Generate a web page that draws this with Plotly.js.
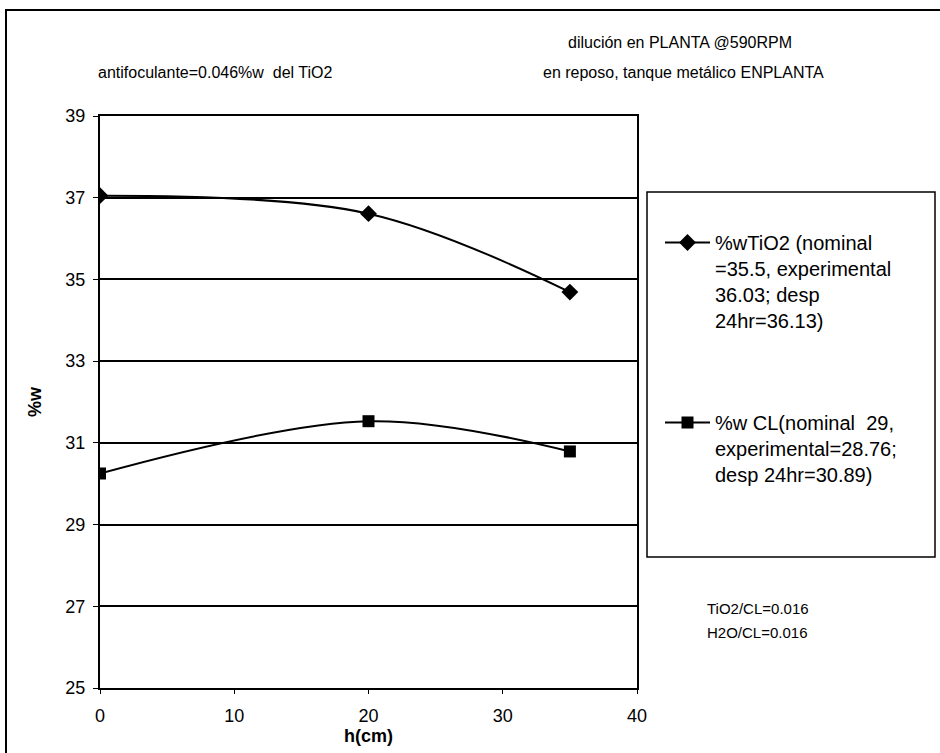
<!DOCTYPE html>
<html>
<head>
<meta charset="utf-8">
<script src="https://cdn.plot.ly/plotly-3.0.1.min.js"></script>
<style>html,body{margin:0;padding:0;background:#fff;}#chart{width:940px;height:753px;}</style>
</head>
<body>
<div id="chart"></div>
<script>
// ---- data ----
const h_cm = [0, 20, 35];
const tio2 = [37.05, 36.61, 34.69];
const cl = [30.25, 31.53, 30.79];
const seriesNames = [
  "%wTiO2 (nominal<br>=35.5, experimental<br>36.03; desp<br>24hr=36.13)",
  "%w CL(nominal\u00a0 29,<br>experimental=28.76;<br>desp 24hr=30.89)"
];
const yTicks = [25, 27, 29, 31, 33, 35, 37, 39];
const xTicks = [0, 10, 20, 30, 40];
const titleLeft = "antifoculante=0.046%w  del TiO2";
const titleRight1 = "dilución en PLANTA @590RPM";
const titleRight2 = "en reposo, tanque metálico ENPLANTA";
const noteLines = ["TiO2/CL=0.016", "H2O/CL=0.016"];

// ---- layout helpers (pixel -> paper) ----
const W = 940, H = 753;
const M = {l: 100, r: 303, t: 116, b: 65};
const pw = W - M.l - M.r, ph = H - M.t - M.b;
const xp = px => (px - M.l) / pw;
const yp = py => (H - M.b - py) / ph;

const FONT = "Liberation Sans, Arial, sans-serif";

const traces = [
  {x: h_cm, y: tio2, name: seriesNames[0], type: "scatter", mode: "lines+markers",
   line: {color: "#000", width: 2, shape: "spline", smoothing: 1},
   marker: {symbol: "diamond", size: 13, color: "#000"}, legendgroup: "a"},
  {x: h_cm, y: cl, name: seriesNames[1], type: "scatter", mode: "lines+markers",
   line: {color: "#000", width: 2, shape: "spline", smoothing: 1},
   marker: {symbol: "square", size: 12, color: "#000"}, legendgroup: "b"}
];

const layout = {
  width: W, height: H,
  margin: M,
  paper_bgcolor: "#fff", plot_bgcolor: "#fff",
  font: {family: FONT, color: "#000", size: 16},
  showlegend: true,
  legend: {
    x: xp(660), y: yp(223), xanchor: "left", yanchor: "top",
    bgcolor: "rgba(0,0,0,0)", borderwidth: 0,
    font: {family: FONT, size: 20, color: "#000"},
    valign: "top", tracegroupgap: 73, itemwidth: 45,
    traceorder: "grouped"
  },
  xaxis: {
    range: [0, 40], tickvals: xTicks, ticktext: xTicks.map(String),
    showgrid: false, zeroline: false,
    showline: true, mirror: true, linecolor: "#000", linewidth: 2,
    ticks: "outside", ticklen: 4, tickcolor: "#000", tickwidth: 1,
    ticklabelstandoff: 6,
    tickfont: {family: FONT, size: 18},
    title: {text: "<b>h(cm)</b>", font: {family: FONT, size: 18}, standoff: 0}
  },
  yaxis: {
    range: [25, 39], tickvals: yTicks, ticktext: yTicks.map(String),
    showgrid: true, gridcolor: "#000", gridwidth: 2, zeroline: false,
    showline: true, mirror: true, linecolor: "#000", linewidth: 2,
    ticks: "outside", ticklen: 5, tickcolor: "#000", tickwidth: 1,
    ticklabelstandoff: 4,
    tickfont: {family: FONT, size: 18},
    title: {text: "<b>%w</b>", font: {family: FONT, size: 18}, standoff: 19}
  },
  shapes: [
    {type: "rect", xref: "paper", yref: "paper", x0: xp(6), x1: xp(950), y0: yp(765), y1: yp(10),
     line: {color: "#000", width: 2}, fillcolor: "rgba(0,0,0,0)"},
    {type: "rect", xref: "paper", yref: "paper", x0: xp(647), x1: xp(935), y0: yp(557), y1: yp(192),
     line: {color: "#000", width: 1.5}, fillcolor: "rgba(0,0,0,0)"}
  ],
  annotations: [
    {text: titleLeft, xref: "paper", yref: "paper", x: xp(215), y: yp(72), xanchor: "center", yanchor: "middle",
     showarrow: false, font: {family: FONT, size: 16}},
    {text: titleRight1, xref: "paper", yref: "paper", x: xp(680), y: yp(43), xanchor: "center", yanchor: "middle",
     showarrow: false, font: {family: FONT, size: 16}},
    {text: titleRight2, xref: "paper", yref: "paper", x: xp(683), y: yp(72), xanchor: "center", yanchor: "middle",
     showarrow: false, font: {family: FONT, size: 16}},
    {text: noteLines[0], xref: "paper", yref: "paper", x: xp(705), y: yp(608), xanchor: "left", yanchor: "middle",
     showarrow: false, font: {family: FONT, size: 15}},
    {text: noteLines[1], xref: "paper", yref: "paper", x: xp(705), y: yp(632), xanchor: "left", yanchor: "middle",
     showarrow: false, font: {family: FONT, size: 15}}
  ]
};

Plotly.newPlot("chart", traces, layout, {displayModeBar: false, staticPlot: true});
</script>
</body>
</html>
